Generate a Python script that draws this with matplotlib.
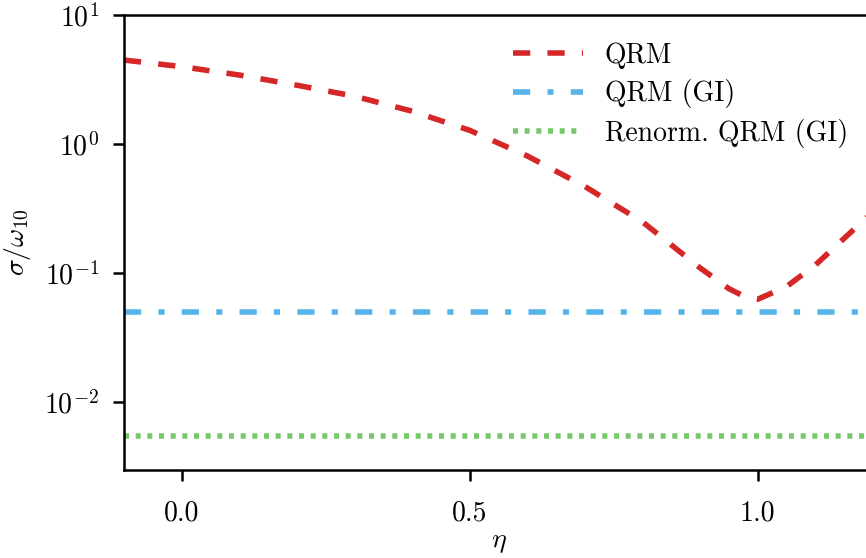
import numpy as np
import matplotlib
matplotlib.use('Agg')
import matplotlib.pyplot as plt
from matplotlib import rcParams

rcParams['font.family'] = 'serif'
rcParams['font.serif'] = ['cmr10', 'DejaVu Serif']
rcParams['mathtext.fontset'] = 'cm'
rcParams['axes.formatter.use_mathtext'] = True
rcParams['axes.unicode_minus'] = False
rcParams.update({'font.size': 20})
rcParams['axes.linewidth'] = 1.8

# values
eta = [-0.1, 0.0, 0.1, 0.2, 0.3, 0.4, 0.5, 0.6, 0.7, 0.8, 0.9, 0.95, 0.98, 1.0, 1.05, 1.1, 1.2]
sigma_qrm = [4.48, 3.98, 3.43, 2.86, 2.35, 1.80, 1.28, 0.81, 0.47, 0.25, 0.11, 0.076, 0.065, 0.063, 0.079, 0.116, 0.30]
sigma_gi = 0.05
sigma_renorm = 0.0055

fig = plt.figure(figsize=(8.66, 5.58), dpi=100)
ax = fig.add_axes([124/866., 1 - 470/558., 749/866., 455/558.])

ax.plot(eta, sigma_qrm, color='#d62728', lw=4, dashes=(3.1, 3.1), label='QRM')
ax.axhline(sigma_gi, color='#56b4e9', lw=4, dashes=(3.1, 3.1, 1.1, 3.1), label='QRM (GI)')
ax.axhline(sigma_renorm, color='#76c86a', lw=4, dashes=(0.9, 1.2), label='Renorm. QRM (GI)')

ax.set_yscale('log')
ax.set_xlim(-0.1, 1.2)
ax.set_ylim(3e-3, 10)
ax.set_xticks([0.0, 0.5, 1.0])
ax.set_xticklabels(['0.0', '0.5', '1.0'])
ax.minorticks_off()
ax.tick_params(direction='out', length=8, width=1.8)
ax.tick_params(axis='x', pad=14)
ax.tick_params(axis='y', pad=10)
ax.set_xlabel(r'$\eta$', labelpad=1)
ax.set_ylabel(r'$\sigma/\omega_{10}$', labelpad=8)
ax.spines['right'].set_visible(False)

ax.legend(loc='upper right', frameon=False, handlelength=2.5, handletextpad=0.8,
          bbox_to_anchor=(1.0, 0.995), labelspacing=0.38)

plt.savefig('out.png', dpi=100)
